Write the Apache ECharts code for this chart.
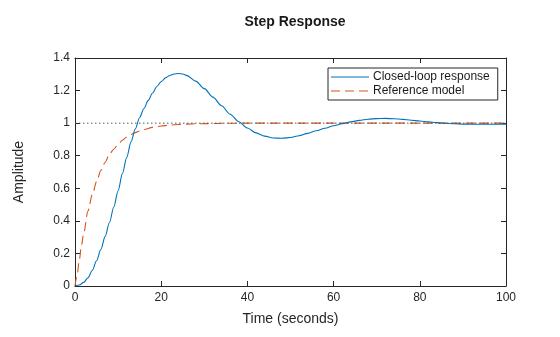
<!DOCTYPE html>
<html>
<head>
<meta charset="utf-8">
<script src="https://cdn.jsdelivr.net/npm/echarts@6/dist/echarts.min.js"></script>
<style>
html,body{margin:0;padding:0;background:#fff;}
#chart{width:560px;height:337px;}
</style>
</head>
<body>
<div id="chart"></div>
<script>
var timeClosed = [0,1,2,3,4,5,6,7,8,9,10,11,12,13,14,15,16,17,18,19,20,21,22,23,24,25,26,28,30,32,34,36,38,40,42,44,46,48,50,52,54,56,58,60,62,64,66,68,70,72,74,76,78,80,82,84,86,88,90,92,94,96,98,100];
var closedLoop = [0,0.006,0.022,0.05,0.095,0.155,0.225,0.305,0.39,0.485,0.585,0.69,0.79,0.885,0.965,1.035,1.09,1.14,1.185,1.225,1.255,1.278,1.293,1.302,1.305,1.302,1.292,1.258,1.212,1.16,1.107,1.055,1.009,0.97,0.94,0.92,0.909,0.907,0.912,0.923,0.937,0.953,0.969,0.984,0.997,1.008,1.017,1.024,1.028,1.029,1.027,1.023,1.018,1.013,1.008,1.003,0.999,0.996,0.994,0.993,0.993,0.993,0.993,0.994];
var timeRef = [0,0.5,1,1.5,2,3,4,5,6,7,8,9,10,11,12,13,14,15,16,18,20,22,24,26,28,30,35,40,50,60,70,80,90,100];
var refModel = [0,0.07,0.16,0.25,0.32,0.46,0.56,0.64,0.71,0.76,0.81,0.84,0.87,0.895,0.915,0.93,0.942,0.952,0.961,0.974,0.982,0.988,0.992,0.994,0.996,0.997,0.999,1,1,1,1,1,1,1];
var steadyTime = [0,100];
var steadyValue = [1,1];
var xTicks = [0,20,40,60,80,100];
var yTicks = [0,0.2,0.4,0.6,0.8,1,1.2,1.4];
var seriesNames = ['Closed-loop response','Reference model'];
var titleText = 'Step Response';
var xLabel = 'Time (seconds)';
var yLabel = 'Amplitude';

function zip(a,b){ return a.map(function(v,i){ return [v,b[i]]; }); }

var FONT = "'Liberation Sans', Arial, Helvetica, sans-serif";
var AX = '#262626';
var chart = echarts.init(document.getElementById('chart'), null, {renderer:'canvas'});

function yFmt(v){ return String(Math.round(v*10)/10); }

var SOLID_ICON = 'path://M0,0H38V1.1H0Z';
var DASH_ICON = 'path://M0,0H9V1.1H0Z M14,0H23V1.1H14Z M28,0H37V1.1H28Z M37.9,0H38V1.1H37.9Z';

var option = {
  animation: false,
  backgroundColor: '#fff',
  textStyle: {fontFamily: FONT},
  title: {
    text: titleText, left: 290, top: 10, textAlign: 'center',
    textStyle: {fontFamily: FONT, fontSize: 14, fontWeight: 'bold', color: '#1a1a1a'}
  },
  grid: {left: 75, right: 54, top: 58, bottom: 51, containLabel: false},
  legend: {
    orient: 'vertical', left: 328, top: 68,
    data: [
      {name: seriesNames[0], icon: SOLID_ICON},
      {name: seriesNames[1], icon: DASH_ICON}
    ],
    backgroundColor: '#fff', borderColor: AX, borderWidth: 1,
    padding: [3, 8, 3, 3], itemGap: 2, itemWidth: 38, itemHeight: 12,
    textStyle: {fontFamily: FONT, fontSize: 12, color: '#1a1a1a', padding: [0,0,0,-1]}
  },
  xAxis: [{
    type: 'value', min: xTicks[0], max: xTicks[xTicks.length-1], interval: xTicks[1]-xTicks[0],
    name: xLabel, nameLocation: 'middle', nameGap: 26,
    nameTextStyle: {fontFamily: FONT, fontSize: 14, color: AX},
    axisLine: {show: true, lineStyle: {color: AX, width: 1}},
    axisTick: {inside: true, length: 5, lineStyle: {color: AX}},
    axisLabel: {fontFamily: FONT, fontSize: 12, color: AX, margin: 6},
    splitLine: {show: false}
  },{
    type: 'value', position: 'top', min: xTicks[0], max: xTicks[xTicks.length-1], interval: xTicks[1]-xTicks[0],
    axisLine: {show: true, onZero: false, lineStyle: {color: AX, width: 1}},
    axisTick: {inside: true, length: 5, lineStyle: {color: AX}},
    axisLabel: {show: false}, splitLine: {show: false}
  }],
  yAxis: [{
    type: 'value', min: yTicks[0], max: yTicks[yTicks.length-1], interval: 0.2,
    name: yLabel, nameLocation: 'middle', nameGap: 49,
    nameTextStyle: {fontFamily: FONT, fontSize: 14, color: AX},
    axisLine: {show: true, lineStyle: {color: AX, width: 1}},
    axisTick: {inside: true, length: 5, lineStyle: {color: AX}},
    axisLabel: {fontFamily: FONT, fontSize: 12, color: AX, margin: 5, formatter: yFmt},
    splitLine: {show: false}
  },{
    type: 'value', position: 'right', min: yTicks[0], max: yTicks[yTicks.length-1], interval: 0.2,
    axisLine: {show: true, onZero: false, lineStyle: {color: AX, width: 1}},
    axisTick: {inside: true, length: 5, lineStyle: {color: AX}},
    axisLabel: {show: false}, splitLine: {show: false}
  }],
  series: [{
    name: seriesNames[0], type: 'line', data: zip(timeClosed, closedLoop),
    showSymbol: false, symbol: 'none', smooth: 0.3, smoothMonotone: 'x',
    lineStyle: {color: '#0072BD', width: 1.1}, itemStyle: {color: '#0072BD'}, z: 3
  },{
    name: seriesNames[1], type: 'line', data: zip(timeRef, refModel),
    showSymbol: false, symbol: 'none', smooth: 0.3, smoothMonotone: 'x',
    lineStyle: {color: '#D95319', width: 1.1, type: [9,5]}, itemStyle: {color: '#D95319'}, z: 2
  },{
    name: 'steady', type: 'line', data: zip(steadyTime, steadyValue),
    showSymbol: false, symbol: 'none', silent: true,
    lineStyle: {color: '#555', width: 1, type: [1.5,2.5]}, z: 4
  }]
};
chart.setOption(option);
</script>
</body>
</html>
